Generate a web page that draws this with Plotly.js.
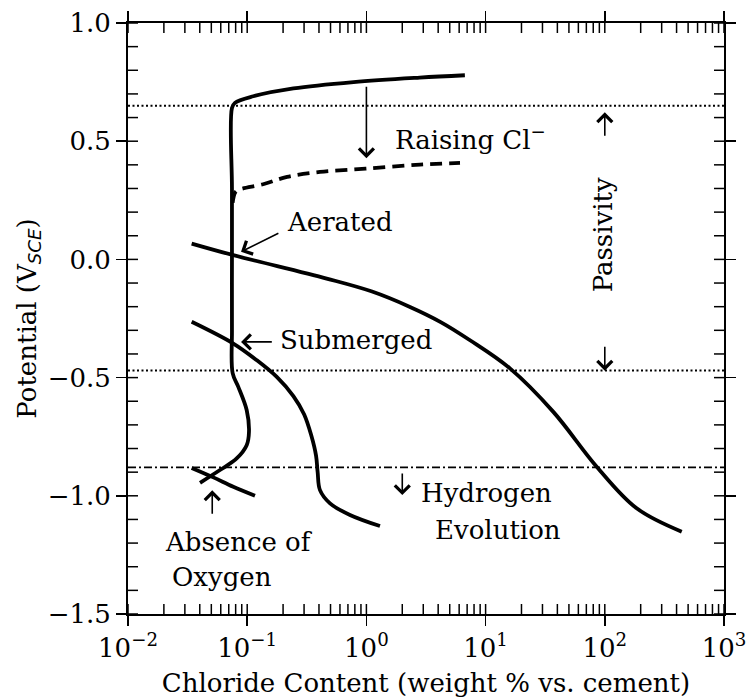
<!DOCTYPE html>
<html>
<head>
<meta charset="utf-8">
<script src="https://cdn.plot.ly/plotly-3.0.1.min.js"></script>
<style>
  html, body { margin: 0; padding: 0; background: #fff; }
  #chart { width: 748px; height: 700px; }
</style>
</head>
<body>
<div id="chart"></div>
<script>
// Steel potential vs. chloride content in concrete

// Aerated passive branch: upper limit, vertical rise, and bend at low potential
const passiveCl = [6.7, 2.8, 0.78, 0.244, 0.1125, 0.0789, 0.0745, 0.0745, 0.0745, 0.0745, 0.0755, 0.0842, 0.0991, 0.1035, 0.099, 0.0816, 0.0591, 0.0402];
const passiveE  = [0.779, 0.769, 0.750, 0.723, 0.690, 0.662, 0.640, 0.30, 0.0, -0.30, -0.481, -0.539, -0.638, -0.729, -0.786, -0.842, -0.891, -0.945];

// Lowered pitting limit with raised chloride (dashed)
const raisedCl = [0.0755, 0.079, 0.0837, 0.136, 0.216, 0.408, 0.986, 2.82, 6.1];
const raisedE  = [0.24, 0.282, 0.293, 0.318, 0.349, 0.370, 0.384, 0.401, 0.408];

// Aerated corrosion potential
const aeratedCl = [0.0342, 0.0765, 0.464, 1.1, 2.32, 4.2, 7.4, 16, 37, 85.5, 185, 442];
const aeratedE  = [0.067, 0.018, -0.081, -0.135, -0.201, -0.265, -0.342, -0.461, -0.645, -0.877, -1.053, -1.152];

// Submerged corrosion potential
const submergedCl = [0.0342, 0.0765, 0.12, 0.177, 0.244, 0.30, 0.345, 0.378, 0.39, 0.408, 0.495, 0.728, 1.30];
const submergedE  = [-0.264, -0.356, -0.426, -0.497, -0.578, -0.655, -0.745, -0.830, -0.90, -0.976, -1.032, -1.081, -1.128];

// Absence of oxygen
const noOxygenCl = [0.0342, 0.052, 0.0764, 0.1162];
const noOxygenE  = [-0.882, -0.922, -0.962, -1.0];

// Reference potentials: passivity band limits and hydrogen evolution
const bandCl = [0.01, 1000];
const passivityTop = 0.65;
const passivityBottom = -0.47;
const hydrogenLevel = -0.88;

// Axis ticks
const decadeVals = [0.01, 0.1, 1, 10, 100, 1000];
const decadeText = ['10<sup>−2</sup>', '10<sup>−1</sup>', '10<sup>0</sup>', '10<sup>1</sup>', '10<sup>2</sup>', '10<sup>3</sup>'];
const potentialVals = [-1.5, -1.0, -0.5, 0.0, 0.5, 1.0];

// inward ticks: every 1..9 step of each decade, every 0.1 V
const decadeInner = [];
for (let k = -2; k <= 2; k++) {
  for (let m = 1; m <= 9; m++) decadeInner.push(m * Math.pow(10, k));
}
decadeInner.push(1000);
const potentialInner = [];
for (let i = -15; i <= 10; i++) potentialInner.push(i / 10);

const FONT = 'DejaVu Serif';
const FS = 26;

// plot area size, used for 10 px inward tick marks
const W = 748, H = 700, M = {l: 128, r: 24, t: 23, b: 86};
const TL = 10;
const X_RANGE = [-2, 3];
const Y_RANGE = [-1.5, 1.0];
// tick length in axis units: a factor along log x, an offset along y
const kx = Math.pow(10, TL * (X_RANGE[1] - X_RANGE[0]) / (W - M.l - M.r));
const dy = TL * (Y_RANGE[1] - Y_RANGE[0]) / (H - M.t - M.b);
const xMin = Math.pow(10, X_RANGE[0]), xMax = Math.pow(10, X_RANGE[1]);

// inward tick segments on all four sides, separated by gaps
const innerTickX = [], innerTickY = [];
decadeInner.forEach(v => {
  innerTickX.push(v, v, null, v, v, null);
  innerTickY.push(Y_RANGE[0], Y_RANGE[0] + dy, null, Y_RANGE[1], Y_RANGE[1] - dy, null);
});
potentialInner.forEach(v => {
  innerTickX.push(xMin, xMin * kx, null, xMax, xMax / kx, null);
  innerTickY.push(v, v, null, v, v, null);
});

const curve = (x, y, dash) => ({
  x, y, type: 'scatter', mode: 'lines',
  line: {color: '#000', width: 3.8, shape: 'spline', smoothing: 1, dash: dash || 'solid'},
  hoverinfo: 'skip', showlegend: false
});
const level = (v, dash) => ({
  x: bandCl, y: [v, v], type: 'scatter', mode: 'lines',
  line: {color: '#000', width: 1.8, dash},
  hoverinfo: 'skip', showlegend: false
});

const traces = [
  {
    x: innerTickX, y: innerTickY, type: 'scatter', mode: 'lines',
    line: {color: '#000', width: 1.5}, connectgaps: false, cliponaxis: false,
    hoverinfo: 'skip', showlegend: false
  },
  level(passivityTop, '2px,2.5px'),
  level(passivityBottom, '2px,2.5px'),
  level(hydrogenLevel, '8px,3px,2px,3px'),
  curve(passiveCl, passiveE),
  curve(raisedCl, raisedE, '12px,7px'),
  curve(aeratedCl, aeratedE),
  curve(submergedCl, submergedE),
  curve(noOxygenCl, noOxygenE)
];

const lg = Math.log10;
// arrow helper: tip at (x, y), tail at (tx, ty); x values in Cl content
const arrow = (x, y, tx, ty) => ({
  x: lg(x), y, ax: lg(tx), ay: ty, xref: 'x', yref: 'y', axref: 'x', ayref: 'y',
  text: '', showarrow: true, arrowhead: 4, arrowsize: 1.8, arrowwidth: 1.6, arrowcolor: '#000', standoff: 0
});
const label = (text, x, y, extra) => Object.assign({
  text, x: lg(x), y, xref: 'x', yref: 'y', showarrow: false,
  xanchor: 'left', yanchor: 'middle', font: {family: FONT, size: FS, color: '#000'}
}, extra || {});

const annotations = [
  arrow(1.0, 0.428, 1.0, 0.737),
  arrow(100, 0.622, 100, 0.517),
  arrow(100, -0.471, 100, -0.363),
  arrow(2.0, -0.997, 2.0, -0.899),
  arrow(0.0888, 0.032, 0.188, 0.114),
  arrow(0.0888, -0.349, 0.1656, -0.349),
  arrow(0.0509, -0.977, 0.0509, -1.082),
  label('Raising Cl<sup>−</sup>', 1.67, 0.512),
  label('Aerated', 0.2075, 0.159),
  label('Submerged', 0.1824, -0.342),
  label('Passivity', 96.6, 0.102, {xanchor: 'center', textangle: -90}),
  label('Hydrogen', 2.76, -0.99),
  label('Evolution', 3.62, -1.145),
  label('Absence of', 0.0197, -1.196),
  label('Oxygen', 0.0225, -1.344)
];

const tickCommon = {
  showgrid: false, zeroline: false, showline: true, linecolor: '#000', linewidth: 2,
  ticks: 'outside', ticklen: 10, tickwidth: 1.5, tickcolor: '#000', mirror: 'ticks',
  tickfont: {family: FONT, size: FS, color: '#000'}
};

const layout = {
  width: W, height: H,
  margin: M,
  paper_bgcolor: '#fff', plot_bgcolor: '#fff',
  showlegend: false,
  xaxis: Object.assign({}, tickCommon, {
    type: 'log', range: X_RANGE,
    tickmode: 'array', tickvals: decadeVals, ticktext: decadeText,
    title: {text: 'Chloride Content (weight % vs. cement)', font: {family: FONT, size: FS, color: '#000'}, standoff: 12}
  }),
  yaxis: Object.assign({}, tickCommon, {
    range: Y_RANGE,
    tickmode: 'array', tickvals: potentialVals, tickformat: '.1f',
    title: {text: 'Potential (V<sub><i><span style="font-family:DejaVu Sans">SCE</span></i></sub>)', font: {family: FONT, size: FS, color: '#000'}, standoff: 4}
  }),
  annotations
};

Plotly.newPlot('chart', traces, layout, {staticPlot: true, displayModeBar: false});
</script>
</body>
</html>
